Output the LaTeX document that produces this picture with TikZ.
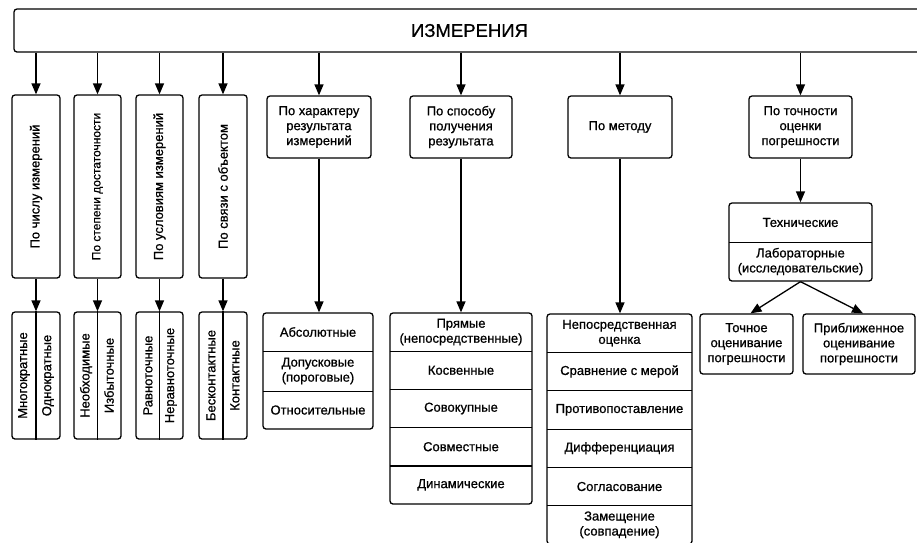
\documentclass[tikz,border=0pt]{standalone}
\usepackage{fontspec}
\setmainfont[FakeBold=0.8]{Liberation Sans}
\usetikzlibrary{arrows.meta}
\tikzset{
  box/.style={draw, line width=1.3pt, rounded corners=3pt, inner sep=0pt},
  lbl/.style={align=center, inner sep=0pt, font=\fontsize{13}{15}\selectfont},
  vlbl/.style={lbl, rotate=90},
  arr/.style={line width=1.3pt, -{Triangle[length=11pt,width=9pt]}},
  ln/.style={line width=1.2pt},
  row/.style={lbl, minimum height=38pt},
}
\begin{document}
\begin{tikzpicture}[x=1pt,y=-1pt]
\useasboundingbox (0,0) rectangle (917,542);
\clip (0,0) rectangle (917,542);
% top
\node[box, minimum width=911pt, minimum height=43pt, font=\fontsize{18.5}{20}\selectfont] (top) at (469.5,30.5) {ИЗМЕРЕНИЯ};
% vertical boxes
\node[box, minimum width=48pt, minimum height=183pt] (v1) at (36,186.5) {};
\node[box, minimum width=47pt, minimum height=183pt] (v2) at (97.5,186.5) {};
\node[box, minimum width=47pt, minimum height=183pt] (v3) at (159.5,186.5) {};
\node[box, minimum width=48pt, minimum height=183pt] (v4) at (223,186.5) {};
\node[vlbl] (v1t) at (v1.center) {По числу измерений};
\node[vlbl, font=\fontsize{12}{15}\selectfont] (v2t) at (v2.center) {По степени достаточности};
\node[vlbl] (v3t) at (v3.center) {По условиям измерений};
\node[vlbl] (v4t) at (v4.center) {По связи с объектом};
% bottom split boxes
\node[box, minimum width=48pt, minimum height=127pt] (b1) at (36,375.5) {};
\node[box, minimum width=47pt, minimum height=127pt] (b2) at (97.5,375.5) {};
\node[box, minimum width=47pt, minimum height=127pt] (b3) at (159.5,375.5) {};
\node[box, minimum width=48pt, minimum height=127pt] (b4) at (223,375.5) {};
\foreach \b in {b1,b2,b3,b4} \draw[ln] (\b.north) -- (\b.south);
\node[vlbl] (b1a) at (24,375.5) {Многократные};
\node[vlbl] (b1b) at (48,375.5) {Однократные};
\node[vlbl] (b2a) at (86,375.5) {Необходимые};
\node[vlbl] (b2b) at (109,375.5) {Избыточные};
\node[vlbl] (b3a) at (148,375.5) {Равноточные};
\node[vlbl] (b3b) at (171,375.5) {Неравноточные};
\node[vlbl] (b4a) at (211,375.5) {Бесконтактные};
\node[vlbl] (b4b) at (235,375.5) {Контактные};
% headers
\node[box, lbl, minimum width=104pt, minimum height=62pt] (c5) at (319,127) {По характеру\\результата\\измерений};
\node[box, lbl, minimum width=102pt, minimum height=62pt] (c6) at (461,127) {По способу\\получения\\результата};
\node[box, lbl, minimum width=104pt, minimum height=62pt] (c7) at (620,127) {По методу};
\node[box, lbl, minimum width=103pt, minimum height=62pt] (c8) at (800.5,127) {По точности\\оценки\\погрешности};
% stack 5
\node[box, minimum width=110pt, minimum height=116pt] (s5) at (318,371) {};
\node[row, minimum width=110pt] (s5a) at (318,332) {Абсолютные};
\node[row, minimum width=110pt, minimum height=40pt] (s5b) at (318,371) {Допусковые\\(пороговые)};
\node[row, minimum width=110pt] (s5c) at (318,410) {Относительные};
\draw[ln] (s5a.south west) -- (s5a.south east);
\draw[ln] (s5b.south west) -- (s5b.south east);
% stack 6
\node[box, minimum width=142pt, minimum height=191pt] (s6) at (461,408.5) {};
\node[row, minimum width=142pt, minimum height=38.2pt] (s6a) at (461,332.1) {Прямые\\(непосредственные)};
\node[row, minimum width=142pt, minimum height=38.2pt] (s6b) at (461,370.3) {Косвенные};
\node[row, minimum width=142pt, minimum height=38.2pt] (s6c) at (461,408.5) {Совокупные};
\node[row, minimum width=142pt, minimum height=38.2pt] (s6d) at (461,446.7) {Совместные};
\node[row, minimum width=142pt, minimum height=38.2pt] (s6e) at (461,484.9) {Динамические};
\foreach \r in {s6a,s6b,s6c,s6d} \draw[ln] (\r.south west) -- (\r.south east);
% stack 7
\node[box, minimum width=145pt, minimum height=230pt] (s7) at (619.5,429) {};
\node[row, minimum width=145pt, minimum height=38.33pt] (s7a) at (619.5,333.17) {Непосредственная\\оценка};
\node[row, minimum width=145pt, minimum height=38.33pt] (s7b) at (619.5,371.5) {Сравнение с мерой};
\node[row, minimum width=145pt, minimum height=38.33pt] (s7c) at (619.5,409.83) {Противопоставление};
\node[row, minimum width=145pt, minimum height=38.33pt] (s7d) at (619.5,448.17) {Дифференциация};
\node[row, minimum width=145pt, minimum height=38.33pt] (s7e) at (619.5,486.5) {Согласование};
\node[row, minimum width=145pt, minimum height=38.33pt] (s7f) at (619.5,524.83) {Замещение\\(совпадение)};
\foreach \r in {s7a,s7b,s7c,s7d,s7e} \draw[ln] (\r.south west) -- (\r.south east);
% stack 8
\node[box, minimum width=143pt, minimum height=78pt] (s8) at (800.5,242) {};
\node[row, minimum width=143pt, minimum height=39pt] (s8a) at (800.5,222.5) {Технические};
\node[row, minimum width=143pt, minimum height=39pt] (s8b) at (800.5,261.5) {Лабораторные\\(исследовательские)};
\draw[ln] (s8a.south west) -- (s8a.south east);
% error boxes
\node[box, lbl, minimum width=93pt, minimum height=60pt] (t1) at (746.5,344) {Точное\\оценивание\\погрешности};
\node[box, lbl, minimum width=112pt, minimum height=60pt] (t2) at (859,344) {Приближенное\\оценивание\\погрешности};
% arrows
\foreach \n in {v1,v2,v3,v4,c5,c6,c7,c8} \draw[arr] (top.south -| \n.north) -- (\n.north);
\foreach \i in {1,2,3,4} \draw[arr] (v\i.south) -- (b\i.north);
\draw[arr] (c5.south) -- (c5.south |- s5.north);
\draw[arr] (c6.south) -- (s6.north);
\draw[arr] (c7.south) -- (c7.south |- s7.north);
\draw[arr] (c8.south) -- (c8.south |- s8.north);
\draw[arr] (s8.south) -- ([xshift=4pt]t1.north);
\draw[arr] (s8.south) -- ([xshift=4pt]t2.north);
\end{tikzpicture}
\end{document}
